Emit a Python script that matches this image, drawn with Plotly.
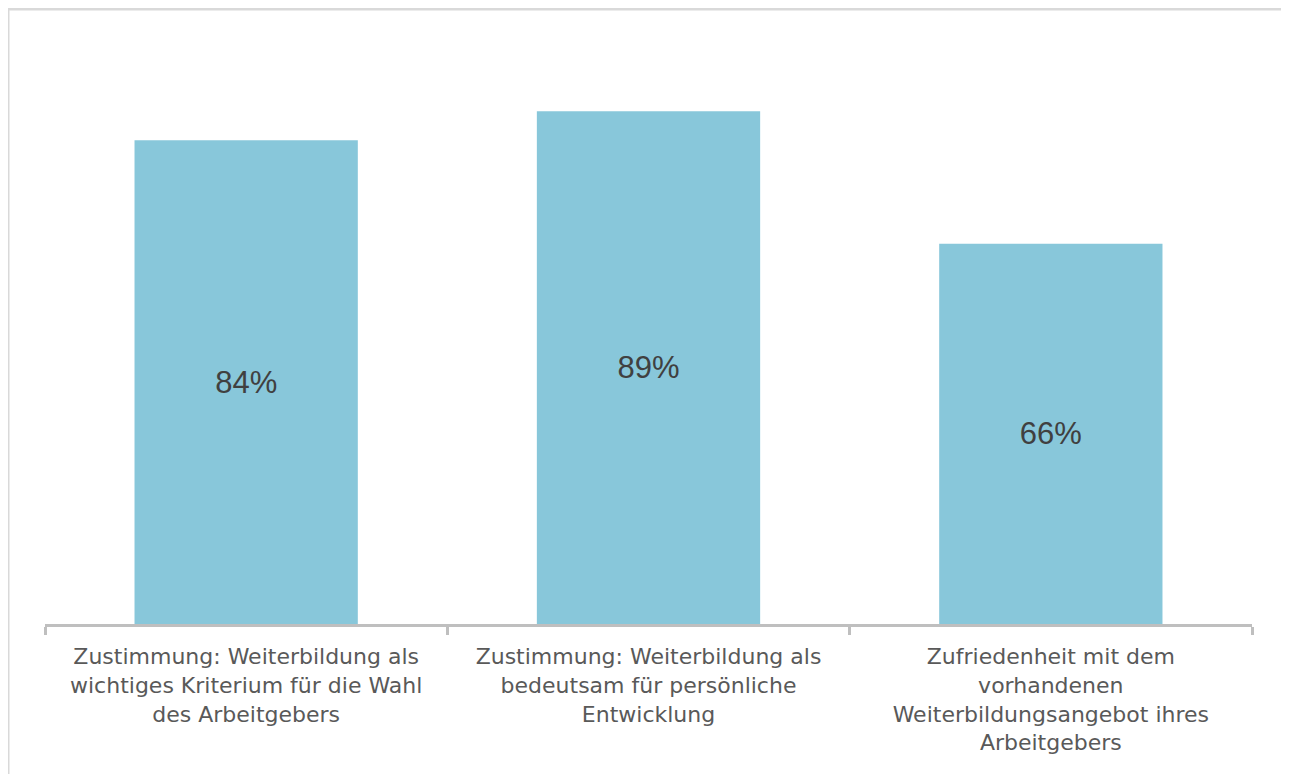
import plotly.graph_objects as go

categories = [
    "Zustimmung: Weiterbildung als<br>wichtiges Kriterium für die Wahl<br>des Arbeitgebers",
    "Zustimmung: Weiterbildung als<br>bedeutsam für persönliche<br>Entwicklung",
    "Zufriedenheit mit dem<br>vorhandenen<br>Weiterbildungsangebot ihres<br>Arbeitgebers",
]
values = [84, 89, 66]
labels = ["84%", "89%", "66%"]

# page is rendered with an 8px body margin
W, H = 1281, 766
ml, mr, mt, mb = 37, 37, 40, 150

fig = go.Figure(go.Bar(
    x=categories, y=values, text=labels,
    textposition="inside", insidetextanchor="middle",
    textfont=dict(size=31, color="#404040", family="Liberation Sans, Arial"),
    marker=dict(color="#88C7DA", line=dict(width=0)),
    hoverinfo="skip",
))

pw = W - ml - mr
ph = H - mt - mb
def px_x(p):
    return (p - ml) / pw
def px_y(p):
    return (H - mb - p) / ph

fig.update_layout(
    width=W, height=H,
    margin=dict(l=ml, r=mr, t=mt, b=mb),
    paper_bgcolor="white", plot_bgcolor="white",
    bargap=0.445,
    showlegend=False,
    xaxis=dict(
        range=[-0.5, 2.5],
        showline=True, linecolor="#BFBFBF", linewidth=3,
        ticks="outside", tickson="boundaries", ticklen=8, tickwidth=3, tickcolor="#BFBFBF",
        ticklabelstandoff=11,
        tickfont=dict(size=22, color="#595959", family="DejaVu Sans"),
        showgrid=False, zeroline=False, fixedrange=True,
    ),
    yaxis=dict(range=[0, 100], visible=False, fixedrange=True),
    shapes=[
        dict(type="line", xref="paper", yref="paper",
             x0=px_x(0), x1=px_x(W + 10), y0=px_y(1), y1=px_y(1),
             line=dict(color="#D9D9D9", width=3)),
        dict(type="line", xref="paper", yref="paper",
             x0=px_x(0), x1=px_x(0), y0=px_y(1), y1=px_y(H + 10),
             line=dict(color="#D9D9D9", width=3)),
    ],
)

fig.write_html("out.html", config={"displayModeBar": False})
